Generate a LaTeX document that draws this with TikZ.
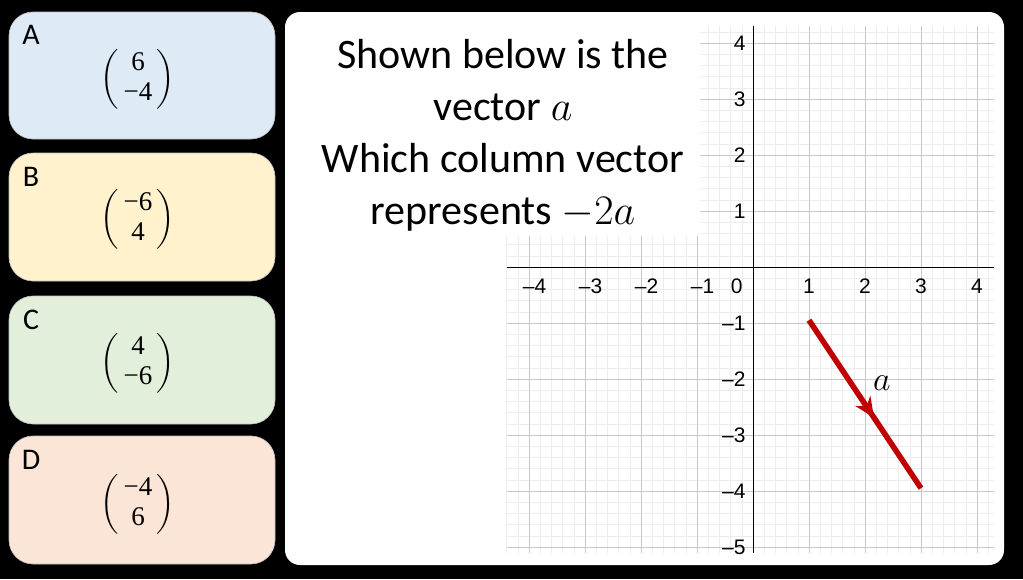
\RequirePackage{fix-cm}
\documentclass[tikz,border=0pt]{standalone}
\usepackage{amsmath}
\usepackage{fontspec}
\setmainfont{Carlito}
\newfontfamily\arialfont{Liberation Sans}
\newfontfamily\entryfont{Liberation Serif}
\usetikzlibrary{arrows.meta,decorations.markings}
\definecolor{boxA}{HTML}{DEEAF6}
\definecolor{boxB}{HTML}{FFF2CC}
\definecolor{boxC}{HTML}{E2EFDA}
\definecolor{boxD}{HTML}{FBE5D6}
\definecolor{vecred}{HTML}{C00000}
\definecolor{minorgrid}{HTML}{EDEDED}
\definecolor{majorgrid}{HTML}{C8C8C8}
\newcommand{\colvec}[2]{$\left(\vcenter{\hbox{\entryfont\fontsize{27}{30}\selectfont
  \begin{tabular}{@{\,}c@{\,}}#1\\#2\end{tabular}}}\right)$}
\tikzset{
  answerbox/.style={draw=black!25, line width=0.6pt, rounded corners=24pt},
  letterlbl/.style={font=\fontsize{30}{36}\selectfont, inner sep=0pt},
  vecentry/.style={font=\fontsize{27}{30}\selectfont, inner sep=0pt},
  ticklbl/.style={font=\arialfont\fontsize{21}{25}\selectfont, inner sep=0pt},
  vecline/.style={vecred, line width=5.5pt,
    postaction={decorate, decoration={markings,
      mark=at position 0.58 with {\arrow{Stealth[length=20pt,width=18pt]}}}}},
}
\begin{document}
\begin{tikzpicture}[x=1pt,y=-1pt]
\fill[black] (0,0) rectangle (1023,579);
\useasboundingbox (0,0) rectangle (1023,579);
% answer boxes
\draw[answerbox, fill=boxA] (9,12) rectangle (275,139);
\draw[answerbox, fill=boxB] (9,153) rectangle (275,281);
\draw[answerbox, fill=boxC] (9,296) rectangle (275,424);
\draw[answerbox, fill=boxD] (9,436) rectangle (275,564);
\node[letterlbl] (lA) at (31,35) {A};
\node[letterlbl] (lB) at (31,177) {B};
\node[letterlbl] (lC) at (31,320) {C};
\node[letterlbl] (lD) at (31,460) {D};
\node[vecentry] (vA) at (138,79) {\colvec{6}{−4}};
\node[vecentry] (vB) at (138,219) {\colvec{−6}{4}};
\node[vecentry] (vC) at (138,363) {\colvec{4}{−6}};
\node[vecentry] (vD) at (138,504) {\colvec{−4}{6}};
% right panel
\fill[white, rounded corners=15pt] (285,12) rectangle (1004,565);
\begin{scope}[shift={(753pt,-267pt)}, x=56pt, y=56pt]
  \draw[minorgrid, line width=0.6pt] (-4.4,-5.1) grid[step=0.2] (4.3,4.3);
  \draw[majorgrid, line width=1pt] (-4.4,-5.1) grid[step=1] (4.3,4.3);
  \draw[black, line width=0.9pt] (-4.4,0) -- (4.3,0);
  \draw[black, line width=0.9pt] (0,-5.1) -- (0,4.3);
  \foreach \i/\t in {-4/{–4},-3/{–3},-2/{–2},-1/{–1}} {
    \node[ticklbl] (xt\i) at (\i+0.1,-0.34) {\t};
  }
  \foreach \i in {1,2,3,4} {
    \node[ticklbl] (xt\i) at (\i,-0.34) {\i};
  }
  \node[ticklbl] (xt0) at (-0.29,-0.34) {0};
  \foreach \i in {1,2,3,4} {
    \node[ticklbl, anchor=east] (yt\i) at (-0.13,\i) {\i};
  }
  \foreach \i/\t in {-1/{–1},-2/{–2},-3/{–3},-4/{–4},-5/{–5}} {
    \node[ticklbl, anchor=east] (yt\i) at (-0.13,\i) {\t};
  }
  \coordinate (vs) at (1,-0.95);
  \coordinate (ve) at (3,-3.95);
  \draw[vecline] (vs) -- (ve);
  \node[font=\fontsize{34}{38}\selectfont, inner sep=0pt] (alabel) at (2.3,-2.08) {$a$};
\end{scope}
% question text with white backing
\fill[white] (292,16) rectangle (700,236);
\node[align=center, font=\fontsize{42}{52}\selectfont, inner sep=0pt] (question) at (503,135)
  {Shown below is the\\ vector $a$\\ Which column vector\\ represents $-2a$};
\end{tikzpicture}
\end{document}
